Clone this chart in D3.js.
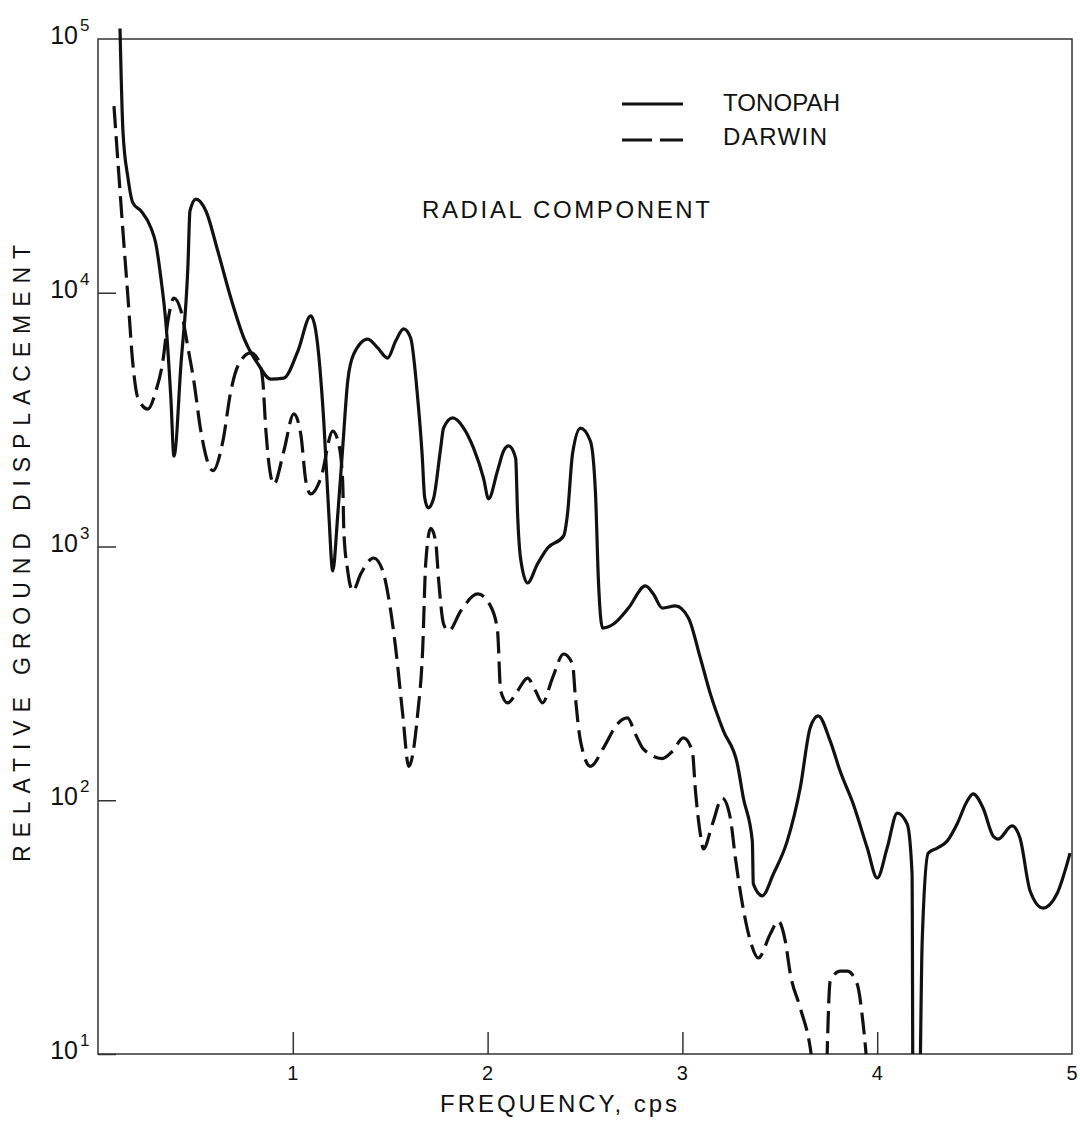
<!DOCTYPE html>
<html>
<head>
<meta charset="utf-8">
<script src="https://cdn.jsdelivr.net/npm/d3@7"></script>
<style>
  html, body { margin: 0; padding: 0; background: #fff; }
  svg { display: block; }
  text { font-family: "Liberation Sans", Arial, sans-serif; fill: #111; }
</style>
</head>
<body>
<svg id="chart" width="1080" height="1122"></svg>
<script>
// ---- data ----
const tonopahFreq = [0.113,0.128,0.154,0.179,0.221,0.272,0.297,0.323,0.349,0.374,
  0.390,0.426,0.462,0.472,0.503,0.554,0.615,0.682,0.749,0.821,
  0.887,0.954,1.026,1.092,1.118,1.159,1.185,1.205,1.231,1.256,
  1.282,1.313,1.385,1.436,1.487,1.528,1.569,1.605,1.641,1.664,
  1.677,1.695,1.723,1.759,1.774,1.821,1.877,1.928,1.979,2.005,
  2.051,2.082,2.108,2.144,2.154,2.169,2.205,2.256,2.308,2.390,
  2.410,2.436,2.477,2.528,2.554,2.569,2.590,2.646,2.723,2.810,
  2.851,2.897,2.964,3.031,3.092,3.144,3.210,3.282,3.313,3.359,
  3.364,3.410,3.467,3.538,3.605,3.656,3.697,3.759,3.810,3.877,
  3.949,4.000,4.051,4.103,4.154,4.179,4.185,4.210,4.231,4.262,
  4.308,4.359,4.410,4.462,4.492,4.544,4.595,4.621,4.692,4.733,
  4.785,4.851,4.923,4.990];
const tonopahValues = [110000,43400,28300,22600,21000,18000,15600,11400,7530,3850,
  2270,5240,12970,21000,23400,21000,14600,9530,6630,5240,
  4570,4610,5890,8100,7070,3120,1340,801,1340,2440,
  4490,5740,6570,6060,5530,6450,7200,6630,3850,2300,
  1560,1420,1550,2440,2930,3210,2930,2440,1860,1540,
  1990,2380,2490,2230,1340,901,718,853,986,1100,
  1340,2320,2930,2600,1610,731,477,495,572,699,
  650,572,583,523,364,262,188,139,102,69,
  46.8,42,51.2,69,112,193,215,171,130,96.6,
  64.8,49.4,64.8,89,80.6,51.2,3,3,27.9,61.9,
  64.8,69,80.6,99.3,106,93,72.3,70.3,79.2,71,
  43.9,37.6,42.8,61.9];

const darwinFreqA = [0.082,0.103,0.128,0.154,0.179,0.205,0.256,0.297,0.333,0.359,
  0.390,0.426,0.462,0.492,0.528,0.590,0.641,0.682,0.723,0.785,
  0.826,0.846,0.862,0.903,0.954,1.005,1.041,1.067,1.092,1.144,
  1.205,1.236,1.256,1.262,1.282,1.308,1.349,1.415,1.462,1.492,
  1.528,1.564,1.595,1.641,1.667,1.682,1.708,1.733,1.749,1.774,
  1.800,1.862,1.949,2.015,2.051,2.067,2.103,2.154,2.205,2.246,
  2.282,2.333,2.390,2.436,2.451,2.477,2.528,2.595,2.667,2.718,
  2.759,2.800,2.897,2.949,3.005,3.051,3.067,3.092,3.108,3.154,
  3.205,3.246,3.272,3.308,3.349,3.390,3.451,3.492,3.528,3.554,
  3.605,3.656,3.677];
const darwinValuesA = [54400,32200,17500,9530,5240,3850,3480,4100,5380,7740,
  9530,8480,6060,4490,2850,1990,2600,4100,5240,5790,
  5380,4490,2850,1760,2380,3330,2770,1810,1610,1860,
  2850,2530,1810,1150,801,668,780,901,801,627,
  398,219,136,219,398,853,1180,1050,731,495,
  465,557,650,583,465,270,242,270,303,270,
  242,303,377,344,253,171,136,161,200,211,
  182,159,146,156,176,156,109,73.6,64.3,80.6,
  102,85.1,59.2,39,27.9,23.9,29.7,33.4,27.9,20.7,
  15.2,10.6,8];
const darwinFreqB = [3.738,3.759,3.810,3.846,3.897,3.928,3.954];
const darwinValuesB = [7,19.4,21.2,21.2,18.9,13.1,8];

const xTickValues = [1, 2, 3, 4];
const xTickLabels = ["1", "2", "3", "4", "5"];
const yTickValues = [10, 100, 1000, 10000, 100000];
const yTickExponents = ["1", "2", "3", "4", "5"];
const seriesNames = ["TONOPAH", "DARWIN"];

// ---- layout ----
const svg = d3.select("#chart");
const X0 = 98, X1 = 1072, Y0 = 1054, Y1 = 39;
const x = d3.scaleLinear().domain([0, 5]).range([X0, X1]);
const y = d3.scaleLog().domain([10, 100000]).range([Y0, Y1]);
const ink = "#111";

svg.append("defs").append("clipPath").attr("id", "plotclip")
  .append("rect").attr("x", X0).attr("y", 24).attr("width", X1 - X0).attr("height", Y0 - 24);

// frame
svg.append("rect").attr("x", X0).attr("y", Y1).attr("width", X1 - X0).attr("height", Y0 - Y1)
  .attr("fill", "none").attr("stroke", "#333").attr("stroke-width", 1.5);

// axes ticks (inward)
const gx = svg.append("g").attr("transform", `translate(0,${Y0})`)
  .call(d3.axisTop(x).tickValues(xTickValues).tickSize(22).tickFormat(""));
gx.select(".domain").remove();
gx.selectAll("line").attr("stroke", "#333").attr("stroke-width", 1.5);

const gy = svg.append("g").attr("transform", `translate(${X0},0)`)
  .call(d3.axisRight(y).tickValues([10, 100, 1000, 10000]).tickSize(18).tickFormat(""));
gy.select(".domain").remove();
gy.selectAll("line").attr("stroke", "#333").attr("stroke-width", 1.5);

// x tick labels
svg.append("g").selectAll("text").data(xTickLabels).join("text")
  .attr("x", (d, i) => x(i + 1)).attr("y", 1080)
  .attr("text-anchor", "middle").attr("font-size", 20).text(d => d);

// y tick labels: 10 with superscript exponent
const yl = svg.append("g").selectAll("g").data(yTickValues).join("g");
yl.append("text").attr("x", 78).attr("y", d => y(d) + 5)
  .attr("text-anchor", "end").attr("font-size", 25).text("10");
yl.append("text").attr("x", 80).attr("y", d => y(d) - 8)
  .attr("text-anchor", "start").attr("font-size", 17)
  .text((d, i) => yTickExponents[i]);

// axis titles
svg.append("text").attr("x", 440).attr("y", 1112).attr("font-size", 24)
  .attr("textLength", 237).attr("lengthAdjust", "spacing").text("FREQUENCY, cps");
svg.append("text").attr("transform", "translate(30,862) rotate(-90)")
  .attr("font-size", 23).attr("textLength", 617).attr("lengthAdjust", "spacing")
  .text("RELATIVE  GROUND  DISPLACEMENT");
svg.append("text").attr("x", 422).attr("y", 218).attr("font-size", 24)
  .attr("textLength", 288).attr("lengthAdjust", "spacing").text("RADIAL  COMPONENT");

// lines
const line = d3.line().x(d => x(d[0])).y(d => y(d[1])).curve(d3.curveMonotoneX);
const plot = svg.append("g").attr("clip-path", "url(#plotclip)");
plot.append("path").datum(d3.zip(tonopahFreq, tonopahValues))
  .attr("d", line).attr("fill", "none").attr("stroke", ink)
  .attr("stroke-width", 3.2).attr("stroke-linejoin", "round");
[[darwinFreqA, darwinValuesA], [darwinFreqB, darwinValuesB]].forEach(([f, v]) => {
  plot.append("path").datum(d3.zip(f, v))
    .attr("d", line).attr("fill", "none").attr("stroke", ink)
    .attr("stroke-width", 3.2).attr("stroke-dasharray", "22,8");
});

// legend
const lg = svg.append("g");
lg.append("line").attr("x1", 622).attr("x2", 683).attr("y1", 104).attr("y2", 104)
  .attr("stroke", ink).attr("stroke-width", 3);
lg.append("line").attr("x1", 622).attr("x2", 652).attr("y1", 140).attr("y2", 140)
  .attr("stroke", ink).attr("stroke-width", 3);
lg.append("line").attr("x1", 660).attr("x2", 683).attr("y1", 140).attr("y2", 140)
  .attr("stroke", ink).attr("stroke-width", 3);
lg.append("text").attr("x", 723).attr("y", 111).attr("font-size", 24)
  .attr("textLength", 117).attr("lengthAdjust", "spacing").text(seriesNames[0]);
lg.append("text").attr("x", 723).attr("y", 145).attr("font-size", 24)
  .attr("textLength", 104).attr("lengthAdjust", "spacing").text(seriesNames[1]);
</script>
</body>
</html>
